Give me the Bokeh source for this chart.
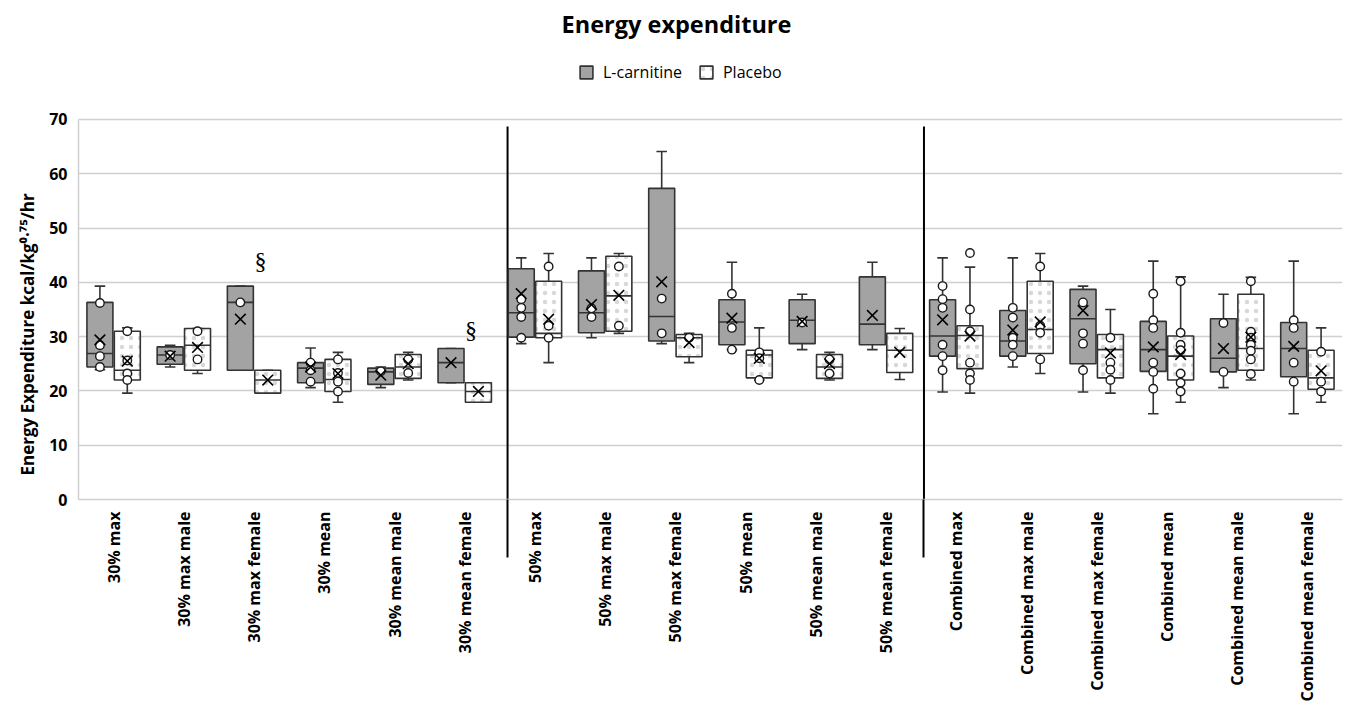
from math import pi
from bokeh.plotting import figure
from bokeh.models import ColumnDataSource, FixedTicker, Label, Legend, LegendItem, Range1d, Title
from bokeh.embed import file_html
from bokeh.resources import INLINE

# ---------------- data ----------------
categories = ["30% max", "30% max male", "30% max female", "30% mean", "30% mean male",
              "30% mean female", "50% max", "50% max male", "50% max female", "50% mean",
              "50% mean male", "50% mean female", "Combined max", "Combined max male",
              "Combined max female", "Combined mean", "Combined mean male",
              "Combined mean female"]

# L-carnitine
lc_low = [23.9, 24.4, 23.8, 20.6, 20.6, 21.5, 28.7, 29.8, 28.7, 27.6, 27.6, 27.6, 19.8, 24.4, 19.8, 15.8, 20.6, 15.8]
lc_q1 = [24.4, 24.9, 23.8, 21.5, 21.2, 21.5, 29.9, 30.7, 29.2, 28.5, 28.7, 28.5, 26.4, 26.4, 25.0, 23.6, 23.5, 22.6]
lc_med = [26.9, 26.6, 36.3, 24.2, 23.5, 25.2, 34.4, 34.4, 33.7, 32.7, 33.0, 32.3, 30.1, 29.2, 33.3, 27.6, 26.0, 27.8]
lc_q3 = [36.3, 28.1, 39.3, 25.2, 24.2, 27.8, 42.5, 42.1, 57.3, 36.8, 36.8, 41.0, 36.8, 34.8, 38.7, 32.8, 33.3, 32.6]
lc_high = [39.3, 28.4, 39.3, 27.9, 24.4, 27.8, 44.5, 44.5, 64.1, 43.7, 37.8, 43.7, 44.5, 44.5, 39.3, 43.9, 37.8, 43.9]
lc_mean = [29.4, 26.4, 33.2, 24.4, 22.9, 25.2, 37.9, 35.9, 40.1, 33.4, 32.8, 33.9, 33.1, 31.2, 34.8, 28.1, 27.8, 28.2]
lc_points = [[36.2, 28.4, 26.4, 24.4], [26.6], [36.3], [25.2, 23.8, 21.7], [23.6], [],
             [36.9, 35.3, 33.6, 29.8], [35.2, 33.6], [37.0, 30.6], [37.9, 31.6, 27.6], [32.6], [],
             [39.3, 36.9, 35.3, 28.5, 26.4, 23.8], [35.3, 33.5, 29.8, 28.5, 26.4],
             [36.3, 30.6, 28.7, 23.8], [37.9, 33.0, 31.6, 25.2, 23.5, 20.4], [32.5, 23.5],
             [33.0, 31.6, 25.2, 21.7]]

# Placebo
pl_low = [19.6, 23.2, 19.6, 17.9, 22.0, 17.9, 25.2, 30.6, 25.2, 22.0, 22.0, 22.1, 19.6, 23.2, 19.6, 17.9, 22.0, 17.9]
pl_q1 = [22.0, 23.8, 19.6, 19.9, 22.3, 17.9, 29.8, 31.0, 26.3, 22.4, 22.3, 23.4, 24.1, 26.9, 22.4, 22.0, 23.8, 20.3]
pl_med = [23.8, 28.4, 22.0, 22.1, 24.4, 19.9, 30.6, 37.5, 29.8, 26.6, 24.4, 27.5, 30.2, 31.3, 27.6, 26.4, 27.8, 22.4]
pl_q3 = [31.0, 31.5, 23.8, 25.8, 26.7, 21.5, 40.2, 44.8, 30.4, 27.5, 26.7, 30.6, 32.0, 40.2, 30.4, 30.1, 37.8, 27.5]
pl_high = [31.6, 31.5, 23.8, 27.1, 27.1, 21.5, 45.3, 45.3, 30.6, 31.6, 27.1, 31.5, 42.8, 45.3, 35.0, 41.0, 40.9, 31.6]
pl_mean = [25.5, 28.0, 22.0, 23.2, 25.0, 19.9, 33.2, 37.6, 28.9, 26.0, 25.0, 27.1, 30.1, 32.7, 27.0, 26.7, 29.9, 23.7]
pl_points = [[31.0, 25.6, 23.2, 22.0], [31.0, 25.8], [], [25.8, 23.3, 21.7, 19.9], [25.8, 23.3], [],
             [42.9, 32.0, 29.8], [42.9, 32.0], [29.8], [27.1, 26.0, 22.0], [25.8, 23.2], [],
             [45.4, 35.0, 31.0, 25.2, 23.2, 22.0], [42.9, 32.0, 30.7, 25.8],
             [29.8, 25.2, 23.9, 22.0], [40.2, 30.7, 28.5, 27.5, 23.2, 21.5, 19.9],
             [40.2, 30.9, 29.8, 28.5, 27.4, 25.8, 23.1], [27.2, 21.7, 19.9]]

y_ticks = [0, 10, 20, 30, 40, 50, 60, 70]
sig_groups = [3, 6]          # groups marked with the section sign
sig_y = [44.0, 31.2]
section_dividers = [6.61, 12.54]

# ---------------- styling ----------------
FONT = "Open Sans"
GRAY = "#a3a3a3"
EDGE = "#333333"
GRID = "#d0d0d0"
OFF = 0.195
BW = 0.37
CAP = 0.075
Y_TOP = 91.9   # frame reaches page top so title/legend sit inside it
DIV_OUT = 58   # how far the section dividers run below the axis (px)

n = len(categories)
gx = list(range(1, n + 1))

p = figure(width=1348, height=705, output_backend="svg", toolbar_location=None,
           x_range=Range1d(0.5, 18.5), y_range=Range1d(0, Y_TOP),
           min_border_left=78, min_border_right=6, min_border_top=0, min_border_bottom=206)
p.outline_line_color = None
p.xgrid.visible = False

# y axis
p.yaxis.ticker = FixedTicker(ticks=y_ticks)
p.yaxis.bounds = (0, 70)
p.yaxis.axis_line_color = GRID
p.yaxis.axis_line_width = 1.5
p.yaxis.major_tick_line_color = None
p.yaxis.minor_tick_line_color = None
p.yaxis.major_tick_out = 0
p.yaxis.major_tick_in = 0
p.yaxis.minor_tick_out = 0
p.yaxis.major_label_text_font = FONT
p.yaxis.major_label_text_font_style = "bold"
p.yaxis.major_label_text_font_size = "16px"
p.yaxis.major_label_text_color = "black"
p.yaxis.major_label_standoff = 11
p.ygrid.ticker = FixedTicker(ticks=y_ticks)
p.ygrid.grid_line_color = GRID
p.ygrid.grid_line_width = 1.5

ylab = Title(text="Energy Expenditure kcal/kg\u2070\u00b7\u2077\u2075/hr", align="left",
             offset=24, standoff=16, text_font=FONT, text_font_style="bold",
             text_font_size="17px", text_color="black")
p.add_layout(ylab, "left")

# x axis: category labels at group centres, section dividers as long minor ticks
p.xaxis.ticker = FixedTicker(ticks=gx, minor_ticks=section_dividers)
p.xaxis.major_label_overrides = {g: c for g, c in zip(gx, categories)}
p.xaxis.major_label_orientation = pi / 2
p.xaxis.major_label_text_font = FONT
p.xaxis.major_label_text_font_style = "bold"
p.xaxis.major_label_text_font_size = "16px"
p.xaxis.major_label_text_color = "black"
p.xaxis.major_label_standoff = 12 - DIV_OUT
p.xaxis.major_tick_line_color = None
p.xaxis.major_tick_out = 0
p.xaxis.major_tick_in = 0
p.xaxis.minor_tick_line_color = "black"
p.xaxis.minor_tick_line_width = 2
p.xaxis.minor_tick_out = DIV_OUT
p.xaxis.minor_tick_in = 0
p.xaxis.axis_line_color = GRID
p.xaxis.axis_line_width = 1.5

# section dividers inside the plot
p.segment(x0=section_dividers, x1=section_dividers, y0=[68.7] * 2, y1=[0] * 2,
          line_color="black", line_width=2)


def draw(offset, low, q1, med, q3, high, mean, points, fill, hatch):
    xs = [g + offset for g in gx]
    src = ColumnDataSource(dict(x=xs, low=low, q1=q1, med=med, q3=q3, high=high, mean=mean,
                                xl=[x - BW / 2 for x in xs], xr=[x + BW / 2 for x in xs],
                                cl=[x - CAP for x in xs], cr=[x + CAP for x in xs]))
    lw = dict(line_color=EDGE, line_width=1.6)
    p.segment(x0="x", x1="x", y0="q3", y1="high", source=src, **lw)
    p.segment(x0="x", x1="x", y0="low", y1="q1", source=src, **lw)
    p.segment(x0="cl", x1="cr", y0="high", y1="high", source=src, **lw)
    p.segment(x0="cl", x1="cr", y0="low", y1="low", source=src, **lw)
    kw = dict(fill_color=fill, line_color=EDGE, line_width=1.6)
    if hatch:
        kw.update(hatch_pattern="dot", hatch_color="#d8d8d8", hatch_scale=9, hatch_weight=0.3)
    box = p.vbar(x="x", width=BW, bottom="q1", top="q3", source=src, **kw)
    p.segment(x0="xl", x1="xr", y0="med", y1="med", source=src, **lw)
    px, py = [], []
    for x, pts in zip(xs, points):
        px += [x] * len(pts)
        py += pts
    p.scatter(x=px, y=py, marker="circle", size=8.5, fill_color="white",
              line_color="#1a1a1a", line_width=1.4)
    p.scatter(x="x", y="mean", source=src, marker="x", size=15, line_color="black",
              line_width=1.6)
    return box


lc_box = draw(-OFF, lc_low, lc_q1, lc_med, lc_q3, lc_high, lc_mean, lc_points, GRAY, False)
pl_box = draw(OFF, pl_low, pl_q1, pl_med, pl_q3, pl_high, pl_mean, pl_points, "white", True)

# significance marks
for g, yv in zip(sig_groups, sig_y):
    p.add_layout(Label(x=g + 0.09, y=yv, text="\u00a7", text_align="center",
                       text_baseline="middle", text_font="Liberation Serif",
                       text_font_size="24px", text_color="black"))

# title (inside the extended frame, above the 70 gridline)
p.add_layout(Label(x=598, y=476, x_units="screen", y_units="screen", text="Energy expenditure",
                   text_align="center", text_baseline="middle", text_font=FONT,
                   text_font_style="bold", text_font_size="23.5px", text_color="black"))

legend = Legend(items=[LegendItem(label="L-carnitine", renderers=[lc_box]),
                       LegendItem(label="Placebo", renderers=[pl_box])],
                location=(500, 416), orientation="horizontal",
                border_line_color=None, background_fill_alpha=0,
                padding=0, margin=0, spacing=16, label_standoff=9,
                glyph_width=16, glyph_height=16,
                label_text_font=FONT, label_text_font_size="16px", label_text_color="black")
p.add_layout(legend)

open("out.html", "w").write(file_html(p, INLINE))
